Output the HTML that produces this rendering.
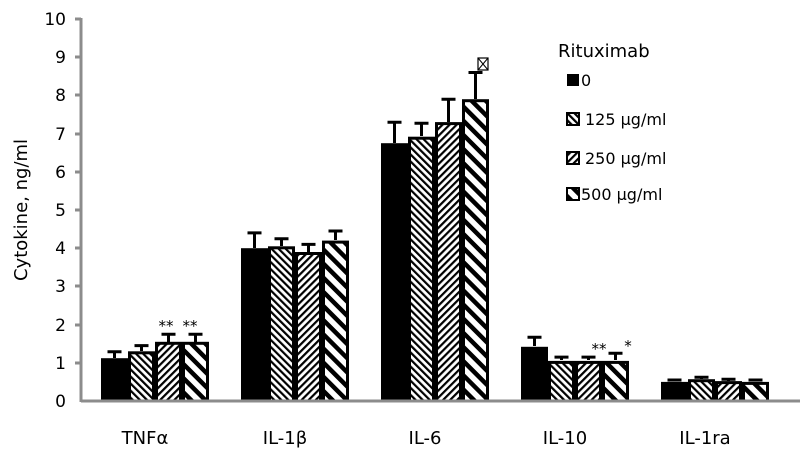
<!DOCTYPE html>
<html><head><style>body{margin:0;background:#fff}svg text{font-family:"DejaVu Sans","Liberation Sans",sans-serif;fill:#000}</style></head>
<body>
<svg width="800" height="464" viewBox="0 0 800 464" xmlns="http://www.w3.org/2000/svg">
<defs>
<pattern id="p1" patternUnits="userSpaceOnUse" width="5" height="5" patternTransform="rotate(-45)"><rect width="5" height="5" fill="#fff"/><rect width="2.2" height="5" fill="#000"/></pattern>
<pattern id="p2" patternUnits="userSpaceOnUse" width="5" height="5" patternTransform="rotate(45)"><rect width="5" height="5" fill="#fff"/><rect width="2.2" height="5" fill="#000"/></pattern>
<pattern id="p3" patternUnits="userSpaceOnUse" width="10" height="10" patternTransform="rotate(-45)"><rect width="10" height="10" fill="#fff"/><rect width="4.5" height="10" fill="#000"/></pattern>
</defs>
<g font-size="17" text-anchor="end">
<text x="66" y="407">0</text><text x="66" y="369">1</text><text x="66" y="331">2</text><text x="66" y="292">3</text><text x="66" y="254">4</text><text x="66" y="216">5</text><text x="66" y="178">6</text><text x="66" y="140">7</text><text x="66" y="101">8</text><text x="66" y="63">9</text><text x="66" y="25">10</text>
</g>
<g stroke="#8c8c8c" stroke-width="3">
<line x1="81" y1="18" x2="81" y2="402"/>
<line x1="75" y1="19" x2="81" y2="19"/><line x1="75" y1="57" x2="81" y2="57"/><line x1="75" y1="95" x2="81" y2="95"/><line x1="75" y1="134" x2="81" y2="134"/><line x1="75" y1="172" x2="81" y2="172"/><line x1="75" y1="210" x2="81" y2="210"/><line x1="75" y1="248" x2="81" y2="248"/><line x1="75" y1="286" x2="81" y2="286"/><line x1="75" y1="325" x2="81" y2="325"/><line x1="75" y1="363" x2="81" y2="363"/>
</g>
<text transform="translate(27,210) rotate(-90)" font-size="18" text-anchor="middle">Cytokine, ng/ml</text>
<g stroke="#000" stroke-width="3" fill="none">
<path d="M114.5 358V351.7M107.5 351.7H121.5M141.5 351V345.6M134.5 345.6H148.5M168.5 342V334.2M161.5 334.2H175.5M195.5 342V334.2M188.5 334.2H202.5"/>
<path d="M254.5 248V232.9M247.5 232.9H261.5M281.5 246V238.7M274.5 238.7H288.5M308.5 252V244.4M301.5 244.4H315.5M335.5 240V231M328.5 231H342.5"/>
<path d="M394.5 143V122.2M387.5 122.2H401.5M421.5 136V123.3M414.5 123.3H428.5M448.5 122V99.2M441.5 99.2H455.5M475.5 99V72.5M468.5 72.5H482.5"/>
<path d="M534.5 346V337.2M527.5 337.2H541.5M561.5 360V357.1M554.5 357.1H568.5M588.5 360V357.1M581.5 357.1H595.5M615.5 360V353.2M608.5 353.2H622.5"/>
<path d="M674.5 381V380M667.5 380H681.5M701.5 379V377.3M694.5 377.3H708.5M728.5 381V379.2M721.5 379.2H735.5M755.5 381V380M748.5 380H762.5"/>
</g>
<g stroke="#000" stroke-width="3">
<rect x="102.5" y="359.7" width="24" height="41.3" fill="#000"/>
<rect x="129.5" y="352.8" width="24" height="48.2" fill="url(#p1)"/>
<rect x="156.5" y="343.3" width="24" height="57.7" fill="url(#p2)"/>
<rect x="183.5" y="343.3" width="24" height="57.7" fill="url(#p3)"/>
<rect x="242.5" y="249.7" width="24" height="151.3" fill="#000"/>
<rect x="269.5" y="247.8" width="24" height="153.2" fill="url(#p1)"/>
<rect x="296.5" y="253.5" width="24" height="147.5" fill="url(#p2)"/>
<rect x="323.5" y="242.1" width="24" height="158.9" fill="url(#p3)"/>
<rect x="382.5" y="144.7" width="24" height="256.3" fill="#000"/>
<rect x="409.5" y="138.2" width="24" height="262.8" fill="url(#p1)"/>
<rect x="436.5" y="123.6" width="24" height="277.4" fill="url(#p2)"/>
<rect x="463.5" y="100.7" width="24" height="300.3" fill="url(#p3)"/>
<rect x="522.5" y="348.3" width="24" height="52.7" fill="#000"/>
<rect x="549.5" y="362.4" width="24" height="38.6" fill="url(#p1)"/>
<rect x="576.5" y="362.4" width="24" height="38.6" fill="url(#p2)"/>
<rect x="603.5" y="362.4" width="24" height="38.6" fill="url(#p3)"/>
<rect x="662.5" y="383.4" width="24" height="17.6" fill="#000"/>
<rect x="689.5" y="380.7" width="24" height="20.3" fill="url(#p1)"/>
<rect x="716.5" y="382.6" width="24" height="18.4" fill="url(#p2)"/>
<rect x="743.5" y="383.4" width="24" height="17.6" fill="url(#p3)"/>
</g>
<line x1="81" y1="401" x2="800" y2="401" stroke="#8c8c8c" stroke-width="3"/>
<g font-size="18" text-anchor="middle">
<text x="145" y="444">TNFα</text><text x="285" y="444">IL-1β</text><text x="425" y="444">IL-6</text><text x="565" y="444">IL-10</text><text x="705" y="444">IL-1ra</text>
</g>
<g font-size="15" text-anchor="middle">
<text x="166" y="331">**</text><text x="190" y="331">**</text><text x="599" y="354">**</text><text x="628" y="351">*</text>
</g>
<rect x="478" y="58" width="10" height="12" fill="#fff" stroke="#000" stroke-width="1.2"/><path d="M478 58L488 70M488 58L478 70" stroke="#000" stroke-width="1"/>
<text x="558" y="57" font-size="18">Rituximab</text>
<g font-size="16">
<rect x="567" y="74" width="12" height="12" fill="#000"/><text x="581" y="86">0</text>
<rect x="567" y="113" width="12" height="12" fill="url(#p1)" stroke="#000" stroke-width="2"/><text x="585" y="125">125 µg/ml</text>
<rect x="567" y="152" width="12" height="12" fill="url(#p2)" stroke="#000" stroke-width="2"/><text x="585" y="164">250 µg/ml</text>
<rect x="567" y="188" width="12" height="12" fill="url(#p3)" stroke="#000" stroke-width="2"/><text x="581" y="200">500 µg/ml</text>
</g>
</svg>
</body></html>
